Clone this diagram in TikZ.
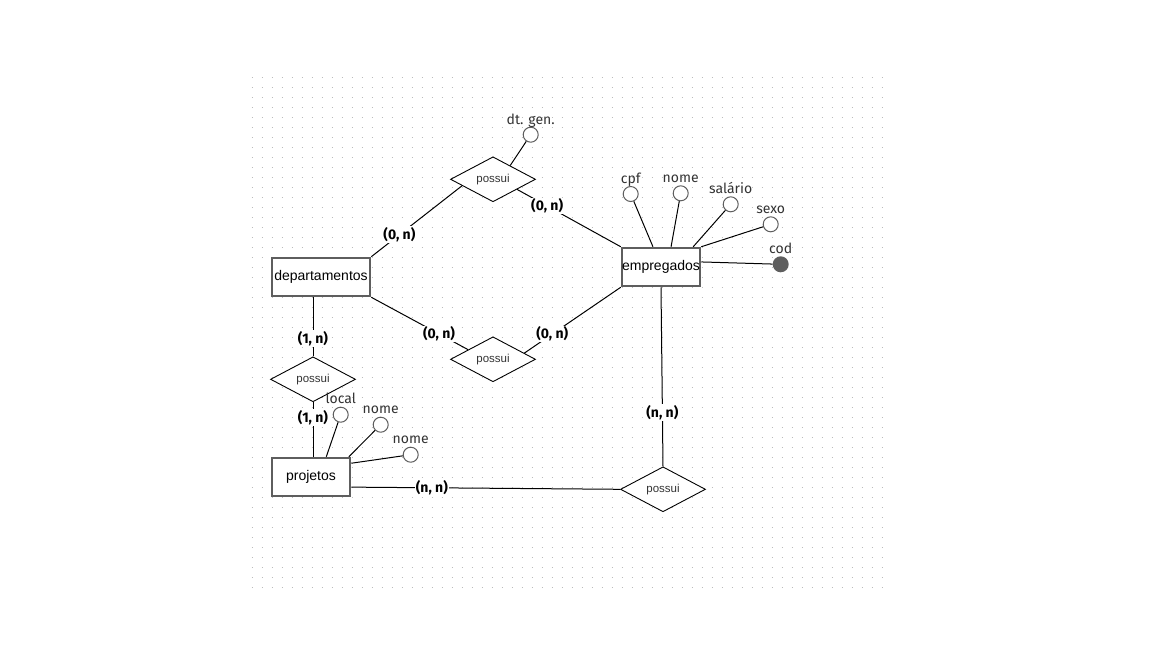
\documentclass[tikz,border=0pt]{standalone}
\usepackage{fontspec}
\setmainfont{Liberation Sans}
\newfontfamily\firasans{Fira Sans}
\usetikzlibrary{shapes.geometric,calc}
\definecolor{edgegray}{HTML}{5E5E5E}
\definecolor{dotgray}{HTML}{BBBBBB}
\definecolor{txtgray}{HTML}{333333}

\begin{document}
\begin{tikzpicture}[x=1pt,y=-1pt,
  entity/.style={draw=edgegray, line width=2pt, fill=white, minimum height=38.5pt,
    inner sep=0pt, font=\fontsize{14}{16}\selectfont},
  relation/.style={diamond, draw=black, line width=0.9pt, fill=white, aspect=1.9,
    minimum width=85pt, minimum height=45pt, inner sep=0pt, text=txtgray,
    font=\fontsize{11.5}{13}\selectfont},
  attr/.style={circle, draw=edgegray, line width=1pt, fill=white, minimum size=15pt, inner sep=0pt},
  keyattr/.style={circle, fill=edgegray, minimum size=16pt, inner sep=0pt},
  attrname/.style={anchor=base, inner sep=0pt, text=txtgray, font=\firasans\fontsize{14}{16}\selectfont},
  card/.style={fill=white, inner sep=1pt, font=\firasans\bfseries\fontsize{14}{16}\selectfont},
  link/.style={draw=black, line width=1pt}
]
% page and dotted drawing grid
\useasboundingbox (0,0) rectangle (1152,648);
\fill[white] (0,0) rectangle (1152,648);
\foreach \j in {0,...,51}
  \draw[dotgray, line width=1pt, dash pattern=on 1pt off 9pt] (251.5,77+10*\j) -- (883,77+10*\j);

% entities
\node[entity, minimum width=98.5pt] (dep) at (321,277) {departamentos};
\node[entity, minimum width=78.5pt] (emp) at (661,267) {empregados};
\node[entity, minimum width=78.5pt] (pr)  at (311,477) {projetos};

% relationships
\node[relation] (top) at (493,179.3) {possui};
\node[relation] (mid) at (493,359.3) {possui};
\node[relation] (lp)  at (313,379.3) {possui};
\node[relation] (br)  at (663,489.3) {possui};

% attributes
\node[attr] (dtgen) at (530.7,134.7) {};
\node[attr] (cpf) at (630.7,194) {};
\node[attr] (enome) at (680.7,193.3) {};
\node[attr] (sal) at (730.7,204.3) {};
\node[attr] (sexo) at (770.7,224.3) {};
\node[keyattr] (cod) at (780.7,264.3) {};
\node[attr] (loc) at (340.7,414.7) {};
\node[attr] (pnome) at (380.7,424.7) {};
\node[attr] (pnomeb) at (410.7,454.7) {};

\node[attrname] (dtgen-t) at ([yshift=10.7pt]dtgen.center) {dt. gen.};
\node[attrname] (cpf-t) at ([yshift=10.7pt]cpf.center) {cpf};
\node[attrname] (enome-t) at ([yshift=10.7pt]enome.center) {nome};
\node[attrname] (sal-t) at ([yshift=10.7pt]sal.center) {salário};
\node[attrname] (sexo-t) at ([yshift=10.7pt]sexo.center) {sexo};
\node[attrname] (cod-t) at ([yshift=10.7pt]cod.center) {cod};
\node[attrname] (loc-t) at ([yshift=11pt]loc.center) {local};
\node[attrname] (pnome-t) at ([yshift=11pt]pnome.center) {nome};
\node[attrname] (pnomeb-t) at ([yshift=11pt]pnomeb.center) {nome};

% attribute links
\draw[link] (dtgen) -- ($(top.north)!0.4!(top.east)$);
\draw[link] (cpf) -- ($(emp.north west)!0.4!(emp.north east)$);
\draw[link] (enome) -- ($(emp.north west)!0.625!(emp.north east)$);
\draw[link] (sal) -- ($(emp.north west)!0.9!(emp.north east)$);
\draw[link] (sexo) -- (emp.north east);
\draw[link] (cod) -- ($(emp.north east)!0.375!(emp.south east)$);
\draw[link] (loc) -- ($(pr.north west)!0.69!(pr.north east)$);
\draw[link] (pnome) -- ($(pr.north west)!0.97!(pr.north east)$);
\draw[link] (pnomeb) -- ($(pr.north east)!0.16!(pr.south east)$);

% relationship links with cardinalities
\draw[link] (dep.north east) -- node[card, pos=0.31] {(0, n)} ($(top.west)!0.28!(top.south)$);
\draw[link] ($(top.south)!0.56!(top.east)$) -- node[card, pos=0.29] {(0, n)} (emp.north west);
\draw[link] (dep.south east) -- node[card, pos=0.70] {(0, n)} ($(mid.west)!0.42!(mid.north)$);
\draw[link] ($(mid.north)!0.73!(mid.east)$) -- node[card, pos=0.29] {(0, n)} (emp.south west);
\draw[link] (dep.south -| lp.north) -- node[card, pos=0.70] {(1, n)} (lp.north);
\draw[link] (lp.south) -- node[card, pos=0.28] {(1, n)} (pr.north -| lp.south);
\draw[link] (emp.south) -- node[card, pos=0.70] {(n, n)} (br.north);
\draw[link] ($(pr.north east)!0.75!(pr.south east)$) -- node[card, pos=0.30] {(n, n)} (br.west);
\end{tikzpicture}
\end{document}
